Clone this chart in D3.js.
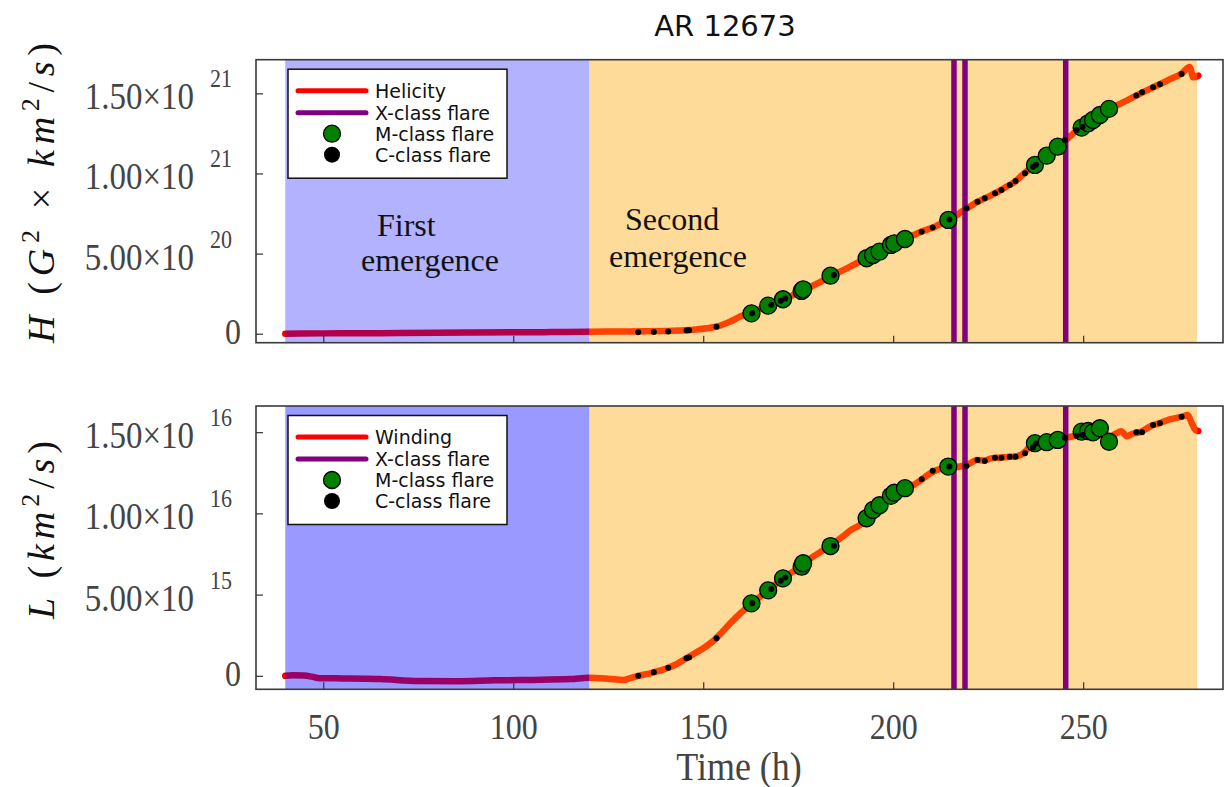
<!DOCTYPE html>
<html>
<head>
<meta charset="utf-8">
<script src="https://cdn.jsdelivr.net/npm/d3@7"></script>
<style>
  html, body { margin: 0; padding: 0; background: #fff; }
  svg { display: block; }
</style>
</head>
<body>
<svg id="chart" width="1225" height="787"></svg>
<script>
// Time axis (hours) and tick values
const timeTicks = [50, 100, 150, 200, 250];

// Emergence phases (hours)
const firstEmergence = [40, 120];
const secondEmergence = [120, 280];

// X-class flare times (hours)
const xFlareTimes = [216.0, 218.9, 245.4];

// Helicity accumulation H, in units of 1e21 G^2 km^2/s
const helicityTime = [40, 50, 60, 70, 80, 90, 100, 110, 120, 125, 130, 135, 140, 145, 148, 151, 154, 157, 160, 163, 166, 169, 172, 175, 178, 181, 184, 187, 190, 193, 196, 199, 202, 205, 208, 211, 214, 216, 218, 220, 222, 224, 226, 228, 230, 232, 234, 236, 238, 240, 242, 244, 246, 248, 250, 252, 254, 256, 258, 261, 264, 267, 270, 273, 276, 278, 279, 280.3];
const helicityValue = [0.000, 0.002, 0.003, 0.004, 0.006, 0.007, 0.009, 0.010, 0.012, 0.013, 0.014, 0.015, 0.017, 0.021, 0.026, 0.034, 0.047, 0.075, 0.110, 0.135, 0.165, 0.195, 0.222, 0.258, 0.290, 0.325, 0.365, 0.398, 0.435, 0.471, 0.507, 0.548, 0.582, 0.612, 0.642, 0.668, 0.705, 0.728, 0.762, 0.790, 0.821, 0.843, 0.867, 0.891, 0.920, 0.948, 0.990, 1.030, 1.066, 1.103, 1.140, 1.180, 1.220, 1.262, 1.292, 1.325, 1.360, 1.392, 1.415, 1.450, 1.486, 1.522, 1.555, 1.590, 1.625, 1.665, 1.600, 1.610];

// Winding accumulation L, in units of 1e16 km^2/s
const windingTime = [40, 42, 45, 47, 49, 55, 65, 75, 85, 95, 105, 115, 120, 125, 129, 131, 133, 135, 137, 139, 141, 143, 145, 147, 149, 151, 153, 155, 157, 159, 161, 163, 165, 167, 169, 171, 173, 175, 177, 179, 181, 183, 185, 187, 189, 191, 193, 195, 197, 199, 201, 203, 205, 207, 209, 211, 213, 214.5, 216, 218, 220, 222, 224, 226, 228, 230, 232, 234, 236, 238, 240, 242, 244, 246, 248, 250, 252, 254, 255, 257, 258.5, 260, 261.5, 263, 265, 268, 270, 273, 276, 277.5, 278.5, 279.5, 280.3];
const windingValue = [0.000, 0.003, 0.002, -0.005, -0.015, -0.016, -0.020, -0.032, -0.033, -0.028, -0.025, -0.020, -0.012, -0.018, -0.026, -0.012, 0.000, 0.010, 0.022, 0.035, 0.051, 0.072, 0.100, 0.128, 0.155, 0.185, 0.222, 0.270, 0.320, 0.368, 0.410, 0.448, 0.488, 0.525, 0.563, 0.600, 0.632, 0.662, 0.700, 0.735, 0.765, 0.795, 0.828, 0.862, 0.900, 0.925, 0.965, 1.030, 1.060, 1.095, 1.130, 1.150, 1.170, 1.200, 1.235, 1.262, 1.278, 1.288, 1.285, 1.290, 1.305, 1.328, 1.326, 1.340, 1.343, 1.347, 1.350, 1.365, 1.410, 1.430, 1.437, 1.447, 1.455, 1.468, 1.478, 1.490, 1.500, 1.505, 1.480, 1.470, 1.490, 1.505, 1.475, 1.490, 1.500, 1.540, 1.555, 1.580, 1.595, 1.605, 1.560, 1.515, 1.507];

// M-class flares: time, H (1e21), L (1e16)
const mFlareTime = [162.7, 167.1, 171.0, 175.9, 176.3, 183.5, 193.0, 194.7, 196.4, 199.4, 200.3, 203.1, 214.5, 237.3, 240.4, 243.3, 249.6, 251.3, 252.6, 254.4, 256.8];
const mFlareH = [0.127, 0.175, 0.215, 0.267, 0.277, 0.362, 0.471, 0.491, 0.512, 0.554, 0.564, 0.591, 0.710, 1.053, 1.111, 1.167, 1.286, 1.313, 1.334, 1.365, 1.403];
const mFlareL = [0.446, 0.526, 0.600, 0.672, 0.693, 0.799, 0.970, 1.021, 1.050, 1.108, 1.127, 1.155, 1.288, 1.432, 1.438, 1.452, 1.503, 1.507, 1.499, 1.524, 1.441];

// C-class flares: time, H (1e21), L (1e16)
const cFlareTime = [132.9, 137.0, 140.8, 145.6, 146.3, 153.5, 162.9, 167.9, 170.4, 171.6, 184.4, 207.5, 210.4, 214.8, 219.3, 222.2, 224.1, 226.8, 228.5, 230.7, 232.2, 234.7, 236.8, 237.6, 245.2, 248.3, 249.8, 264.0, 265.5, 268.4, 270.2, 275.9];
const cFlareH = [0.009, 0.011, 0.013, 0.020, 0.022, 0.044, 0.127, 0.180, 0.205, 0.220, 0.366, 0.637, 0.662, 0.712, 0.783, 0.824, 0.845, 0.876, 0.897, 0.928, 0.953, 1.001, 1.042, 1.055, 1.209, 1.272, 1.290, 1.486, 1.507, 1.538, 1.557, 1.621];
const cFlareL = [0.000, 0.022, 0.050, 0.108, 0.112, 0.231, 0.446, 0.535, 0.585, 0.605, 0.800, 1.210, 1.263, 1.288, 1.292, 1.329, 1.323, 1.343, 1.343, 1.349, 1.349, 1.370, 1.405, 1.430, 1.465, 1.478, 1.483, 1.499, 1.499, 1.544, 1.555, 1.595];

// Y tick values and their labels (mantissa, exponent)
const hTicks = [0, 0.5, 1.0, 1.5];
const hTickMantissa = ["0", "5.00×10", "1.00×10", "1.50×10"];
const hTickExponent = ["", "20", "21", "21"];
const lTicks = [0, 0.5, 1.0, 1.5];
const lTickMantissa = ["0", "5.00×10", "1.00×10", "1.50×10"];
const lTickExponent = ["", "15", "16", "16"];

const legendH = ["Helicity", "X-class flare", "M-class flare", "C-class flare"];
const legendL = ["Winding", "X-class flare", "M-class flare", "C-class flare"];

const svg = d3.select("#chart");
const serif = "'Liberation Serif', 'Times New Roman', serif";
const sans = "'DejaVu Sans', sans-serif";

const x = d3.scaleLinear().domain([32.3, 286.8]).range([256, 1223]);

const panels = [
  { key: "H", top: 59.7, bottom: 342.7, domain: [-0.0562, 1.710],
    t: helicityTime, v: helicityValue, mV: mFlareH, cV: cFlareH,
    ticks: hTicks, mant: hTickMantissa, expo: hTickExponent,
    legend: legendH, blueAlpha: 0.3, showX: false },
  { key: "L", top: 406, bottom: 689.3, domain: [-0.083, 1.661],
    t: windingTime, v: windingValue, mV: mFlareL, cV: cFlareL,
    ticks: lTicks, mant: lTickMantissa, expo: lTickExponent,
    legend: legendL, blueAlpha: 0.4, showX: true }
];

const x0 = x.range()[0], x1 = x.range()[1];

panels.forEach((p, pi) => {
  const y = d3.scaleLinear().domain(p.domain).range([p.bottom, p.top]);
  const g = svg.append("g");
  const clipId = "clip" + pi;
  svg.append("defs").append("clipPath").attr("id", clipId)
    .append("rect").attr("x", x0).attr("y", p.top).attr("width", x1 - x0).attr("height", p.bottom - p.top);
  const plot = g.append("g").attr("clip-path", `url(#${clipId})`);

  // accumulated quantity
  const series = p.t.map((t, i) => [t, p.v[i]]);
  plot.append("path")
    .datum(series)
    .attr("fill", "none")
    .attr("stroke", "#ff0000")
    .attr("stroke-width", 6.5)
    .attr("stroke-linejoin", "round")
    .attr("stroke-linecap", "round")
    .attr("d", d3.line().x(d => x(d[0])).y(d => y(d[1])).curve(d3.curveMonotoneX));

  // emergence phase shading
  plot.append("rect")
    .attr("x", x(firstEmergence[0])).attr("width", x(firstEmergence[1]) - x(firstEmergence[0]))
    .attr("y", p.top).attr("height", p.bottom - p.top)
    .attr("fill", "#0000ff").attr("fill-opacity", p.blueAlpha);
  plot.append("rect")
    .attr("x", x(secondEmergence[0])).attr("width", x(secondEmergence[1]) - x(secondEmergence[0]))
    .attr("y", p.top).attr("height", p.bottom - p.top)
    .attr("fill", "#ffa500").attr("fill-opacity", 0.4);

  // X-class flares
  plot.selectAll(".xflare").data(xFlareTimes).enter().append("line")
    .attr("x1", d => x(d)).attr("x2", d => x(d))
    .attr("y1", p.top).attr("y2", p.bottom)
    .attr("stroke", "#800080").attr("stroke-width", 5.5);

  // M-class flares
  plot.selectAll(".mflare").data(mFlareTime.map((t, i) => [t, p.mV[i]])).enter().append("circle")
    .attr("cx", d => x(d[0])).attr("cy", d => y(d[1])).attr("r", 8.5)
    .attr("fill", "#008000").attr("stroke", "#000").attr("stroke-width", 1.3);

  // C-class flares
  plot.selectAll(".cflare").data(cFlareTime.map((t, i) => [t, p.cV[i]])).enter().append("circle")
    .attr("cx", d => x(d[0])).attr("cy", d => y(d[1])).attr("r", 3)
    .attr("fill", "#000");

  // text labels for emergence phases (top panel)
  if (pi === 0) {
    const txt = [
      { s: "First", x: 377, y: 236 },
      { s: "emergence", x: 361, y: 271 },
      { s: "Second", x: 625, y: 230 },
      { s: "emergence", x: 609, y: 267 }
    ];
    g.selectAll(".phase").data(txt).enter().append("text")
      .attr("x", d => d.x).attr("y", d => d.y)
      .attr("font-family", serif).attr("font-size", 32).attr("fill", "#111")
      .text(d => d.s);
  }

  // legend
  const lx = 288, ly = p.top + 9.5, lw = 219, lh = 109;
  const leg = g.append("g");
  leg.append("rect").attr("x", lx).attr("y", ly).attr("width", lw).attr("height", lh)
    .attr("fill", "#fff").attr("stroke", "#111").attr("stroke-width", 1.5);
  const rows = [21.5, 43.5, 64.5, 85.5];
  p.legend.forEach((name, i) => {
    const ry = ly + rows[i];
    if (i === 0) leg.append("line").attr("x1", 298).attr("x2", 366).attr("y1", ry).attr("y2", ry)
      .attr("stroke", "#ff0000").attr("stroke-width", 5).attr("stroke-linecap", "round");
    if (i === 1) leg.append("line").attr("x1", 298).attr("x2", 366).attr("y1", ry).attr("y2", ry)
      .attr("stroke", "#800080").attr("stroke-width", 5).attr("stroke-linecap", "round");
    if (i === 2) leg.append("circle").attr("cx", 332).attr("cy", ry).attr("r", 8.5)
      .attr("fill", "#008000").attr("stroke", "#000").attr("stroke-width", 1.3);
    if (i === 3) leg.append("circle").attr("cx", 332).attr("cy", ry).attr("r", 8).attr("fill", "#000");
    leg.append("text").attr("x", 375).attr("y", ry).attr("dy", "0.36em")
      .attr("font-family", sans).attr("font-size", 19).attr("fill", "#111").text(name);
  });

  // frame
  g.append("rect").attr("x", x0).attr("y", p.top).attr("width", x1 - x0).attr("height", p.bottom - p.top)
    .attr("fill", "none").attr("stroke", "#3a3a3a").attr("stroke-width", 1.6);

  // x ticks (inward), labels only on the lower panel
  const xAxis = g.append("g").attr("transform", `translate(0,${p.bottom})`)
    .call(d3.axisBottom(x).tickValues(timeTicks).tickSizeInner(-7).tickSizeOuter(0).tickPadding(20));
  xAxis.select(".domain").remove();
  xAxis.selectAll(".tick line").attr("stroke", "#333").attr("stroke-width", 1.2);
  if (p.showX) {
    xAxis.selectAll(".tick text")
      .attr("font-family", serif).attr("font-size", 32).attr("fill", "#444")
      .attr("y", 0).attr("dy", 0)
      .attr("transform", "translate(0,50) scale(1,1.15)");
  } else {
    xAxis.selectAll(".tick text").remove();
  }

  // y ticks (inward) with scientific labels
  const yAxis = g.append("g").attr("transform", `translate(${x0},0)`)
    .call(d3.axisLeft(y).tickValues(p.ticks).tickSizeInner(-7).tickSizeOuter(0).tickFormat(""));
  yAxis.select(".domain").remove();
  yAxis.selectAll(".tick line").attr("stroke", "#333").attr("stroke-width", 1.2);
  yAxis.selectAll(".tick text").remove();

  p.ticks.forEach((v, i) => {
    const ty = y(v);
    if (p.expo[i] === "") {
      svg.append("text").attr("transform", `translate(241,${ty + 10}) scale(1,1.12)`)
        .attr("text-anchor", "end").attr("font-family", serif).attr("font-size", 32).attr("fill", "#444")
        .text(p.mant[i]);
    } else {
      svg.append("text").attr("transform", `translate(194,${ty + 16}) scale(1,1.12)`)
        .attr("text-anchor", "end").attr("font-family", serif).attr("font-size", 33).attr("fill", "#444")
        .text(p.mant[i]);
      svg.append("text").attr("transform", `translate(210,${ty - 6}) scale(1,1.12)`)
        .attr("text-anchor", "start").attr("font-family", serif).attr("font-size", 22).attr("fill", "#444")
        .text(p.expo[i]);
    }
  });
});

// y-axis titles, stretched to the span of the math-style labels
const yTitleTop = svg.append("text")
  .attr("transform", "translate(54,193) rotate(-90)")
  .attr("text-anchor", "middle").attr("font-family", serif).attr("font-size", 38).attr("fill", "#111")
  .attr("textLength", 300).attr("lengthAdjust", "spacing");
yTitleTop.append("tspan").attr("font-style", "italic").text("H");
yTitleTop.append("tspan").text(" (");
yTitleTop.append("tspan").attr("font-style", "italic").text("G");
yTitleTop.append("tspan").attr("font-size", 26).attr("dy", -15).text("2");
yTitleTop.append("tspan").attr("dy", 15).text(" × ");
yTitleTop.append("tspan").attr("font-style", "italic").text("km");
yTitleTop.append("tspan").attr("font-size", 26).attr("dy", -15).text("2");
yTitleTop.append("tspan").attr("dy", 15).text("/");
yTitleTop.append("tspan").attr("font-style", "italic").text("s");
yTitleTop.append("tspan").text(")");

const yTitleBot = svg.append("text")
  .attr("transform", "translate(54,530) rotate(-90)")
  .attr("text-anchor", "middle").attr("font-family", serif).attr("font-size", 38).attr("fill", "#111")
  .attr("textLength", 178).attr("lengthAdjust", "spacing");
yTitleBot.append("tspan").attr("font-style", "italic").text("L");
yTitleBot.append("tspan").text(" (");
yTitleBot.append("tspan").attr("font-style", "italic").text("km");
yTitleBot.append("tspan").attr("font-size", 26).attr("dy", -15).text("2");
yTitleBot.append("tspan").attr("dy", 15).text("/");
yTitleBot.append("tspan").attr("font-style", "italic").text("s");
yTitleBot.append("tspan").text(")");

// x-axis title and chart title
svg.append("text").attr("transform", "translate(739,780) scale(1,1.12)")
  .attr("text-anchor", "middle").attr("font-family", serif).attr("font-size", 36).attr("fill", "#444")
  .text("Time (h)");
svg.append("text").attr("x", 725).attr("y", 36)
  .attr("text-anchor", "middle").attr("font-family", sans).attr("font-size", 29).attr("fill", "#111")
  .text("AR 12673");
</script>
</body>
</html>
